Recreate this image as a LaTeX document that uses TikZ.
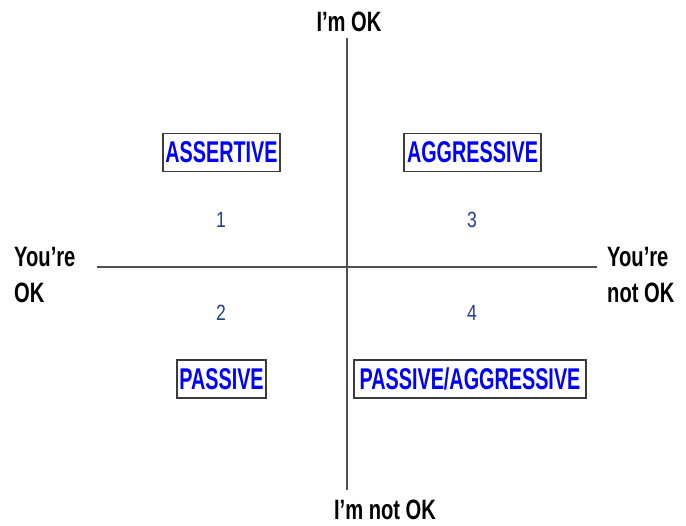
\documentclass[tikz,border=0pt]{standalone}
\usepackage{fontspec}
\setmainfont{Liberation Sans}
\newfontfamily\lblfont[FakeStretch=0.72]{Liberation Sans}
\newfontfamily\boxfont[FakeStretch=0.66]{Liberation Sans}
\newfontfamily\numfont[FakeStretch=0.80]{Liberation Sans}
\definecolor{axisgray}{RGB}{80,80,80}
\definecolor{boxgray}{RGB}{60,60,60}
\definecolor{numblue}{RGB}{35,65,145}
\definecolor{txtblue}{RGB}{0,0,255}
\tikzset{
  axis/.style={draw=axisgray, line width=1.4pt},
  stylebox/.style={draw=boxgray, line width=1.5pt, fill=white, text=txtblue,
    font=\boxfont\bfseries\fontsize{30}{32}\selectfont, inner sep=0pt,
    minimum height=38pt},
  axislabel/.style={font=\lblfont\bfseries\fontsize{28}{36}\selectfont, text=black, inner sep=0pt},
  quadnum/.style={font=\numfont\fontsize{22}{24}\selectfont, text=numblue, inner sep=0pt}
}
\begin{document}
\begin{tikzpicture}[x=1pt,y=-1pt]
\useasboundingbox (0,0) rectangle (686,526);
% axes
\coordinate (top) at (347,38);
\coordinate (bottom) at (347,490);
\coordinate (left) at (97,267);
\coordinate (right) at (597,267);
\draw[axis] (top) -- (bottom);
\draw[axis] (left) -- (right);
% axis labels
\node[axislabel, anchor=base] (imok) at (349,32) {I’m OK};
\node[axislabel, anchor=base] (imnotok) at (385,520) {I’m not OK};
\node[axislabel, anchor=base west, align=left] (youok) at (14,303) {You’re\\OK};
\node[axislabel, anchor=base west, align=left] (younotok) at (607,303) {You’re\\not OK};
% boxes
\node[stylebox, minimum width=117pt] (assertive) at (221.5,152.5) {ASSERTIVE};
\node[stylebox, minimum width=137pt] (aggressive) at (472.5,152.5) {AGGRESSIVE};
\node[stylebox, minimum width=89pt] (passive) at (221.5,379) {PASSIVE};
\node[stylebox, minimum width=232pt] (passagg) at (470,379) {PASSIVE/AGGRESSIVE};
% numbers
\node[quadnum] (n1) at (221,220) {1};
\node[quadnum] (n3) at (472,220) {3};
\node[quadnum] (n2) at (221,313) {2};
\node[quadnum] (n4) at (472,313) {4};
\end{tikzpicture}
\end{document}
